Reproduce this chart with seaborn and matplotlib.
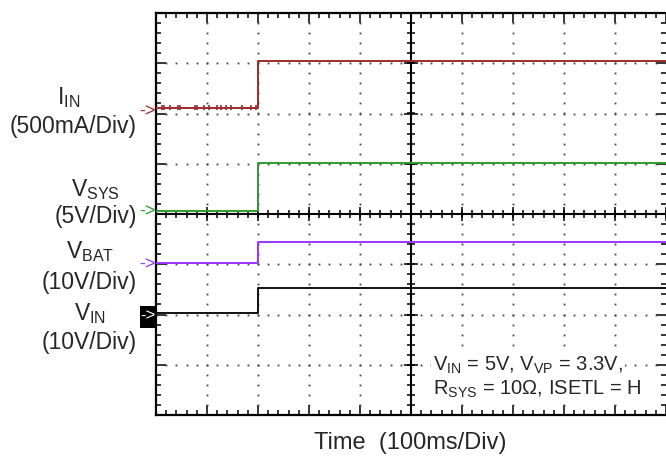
import matplotlib
matplotlib.use("Agg")
import matplotlib.pyplot as plt
import numpy as np
import pandas as pd
import seaborn as sns
from matplotlib.patches import Rectangle

# ---- scope capture data (time in ms) ----
step_time = [0, 200, 200, 1000]
iin_ma = [55, 55, 522, 522]          # input current, mA
vsys_v = [0.3, 0.3, 5.05, 5.05]      # system rail, V
vbat_v = [0.7, 0.7, 4.9, 4.9]        # battery, V
vin_v = [0.36, 0.36, 5.2, 5.2]       # input, V

channels = ["IIN", "VSYS", "VBAT", "VIN"]
channel_values = [iin_ma, vsys_v, vbat_v, vin_v]
per_div = [500, 5, 10, 10]           # units per vertical division
ground_div = [2.0, 0.0, -1.04, -2.0] # ground-marker position of each channel
colors = ["#9e2a2a", "#2f9a2f", "#9a33ff", "#111111"]

# small switching spikes seen on the input-current trace before the step
iin_spike_times = [12, 15, 27, 43, 47, 76, 80, 94, 103, 119, 128, 138, 148, 168, 186, 196]

sns.set_theme(style="white")
plt.rcParams["font.family"] = ["Liberation Sans", "DejaVu Sans"]
plt.rcParams["mathtext.fontset"] = "custom"
plt.rcParams["mathtext.rm"] = "Liberation Sans"
plt.rcParams["mathtext.it"] = "Liberation Sans"
plt.rcParams["mathtext.default"] = "regular"

W, H = 666, 457
fig = plt.figure(figsize=(W / 100, H / 100), dpi=100)
fig.patch.set_facecolor("white")
ax = fig.add_axes([156 / W, 42 / H, 510 / W, 402 / H])
ax.set_facecolor("white")

rows = []
for name, vals, scale, g in zip(channels, channel_values, per_div, ground_div):
    for t, v in zip(step_time, vals):
        rows.append({"time": t, "level": g + v / scale, "channel": name})
df = pd.DataFrame(rows)

# graticule dots
dot_kw = dict(ls="none", marker="s", ms=1.3, color="#444444", mec="none", zorder=1)
minor_x = np.arange(0, 1001, 20)
minor_y = np.arange(-4, 4.01, 0.2)
for xm in range(100, 1000, 100):
    if xm != 500:
        ax.plot(np.full(minor_y.size, xm), minor_y, **dot_kw)
for ym in range(-3, 4):
    if ym != 0:
        ax.plot(minor_x, np.full(minor_x.size, ym), **dot_kw)

# centre cross with its tick marks
ax.axvline(500, color="black", lw=1.5, zorder=2)
ax.axhline(0, color="black", lw=1.5, zorder=2)
ax.plot(np.full(minor_y.size, 500), minor_y, ls="none", marker="_", ms=6, mew=1.1, color="black", zorder=2)
ax.plot(minor_x, np.zeros(minor_x.size), ls="none", marker="|", ms=6, mew=1.1, color="black", zorder=2)
major_y = np.arange(-4, 5, 1)
major_x = np.arange(0, 1001, 100)
ax.plot(np.full(major_y.size, 500), major_y, ls="none", marker="_", ms=10, mew=1.1, color="black", zorder=2)
ax.plot(major_x, np.zeros(major_x.size), ls="none", marker="|", ms=10, mew=1.1, color="black", zorder=2)

# traces
sns.lineplot(data=df, x="time", y="level", hue="channel", palette=dict(zip(channels, colors)),
             estimator=None, sort=False, legend=False, lw=1.4, ax=ax, zorder=4)
iin_low = ground_div[0] + iin_ma[0] / per_div[0]
ax.vlines(iin_spike_times, iin_low - 0.05, iin_low + 0.05, color=colors[0], lw=1.2, zorder=4)

ax.set_xlim(0, 1000)
ax.set_ylim(-4, 4)
ax.set_xticks(major_x)
ax.set_xticks(minor_x, minor=True)
ax.set_yticks(major_y)
ax.set_yticks(minor_y, minor=True)
ax.tick_params(which="both", direction="in", top=True, bottom=True, left=True, right=True,
               labelbottom=False, labelleft=False, color="black", width=1.1)
ax.tick_params(which="major", length=7)
ax.tick_params(which="minor", length=3.5)
ax.set_xlabel("")
ax.set_ylabel("")
for side in ["top", "bottom", "left"]:
    ax.spines[side].set_color("black")
    ax.spines[side].set_linewidth(1.6)
ax.spines["right"].set_visible(False)

# channel labels on the left
def ftext(x, y, s, **kw):
    return fig.text(x / W, 1 - y / H, s, va="center", **kw)

fs = 16.5
ftext(69, 98, r"$\mathregular{I_{IN}}$", ha="center", fontsize=fs)
ftext(137, 126, "(500mA/Div)", ha="right", fontsize=fs)
ftext(95, 190, r"$\mathregular{V_{SYS}}$", ha="center", fontsize=fs)
ftext(137, 216, "(5V/Div)", ha="right", fontsize=fs)
ftext(90, 252, r"$\mathregular{V_{BAT}}$", ha="center", fontsize=fs)
ftext(137, 282, "(10V/Div)", ha="right", fontsize=fs)
ftext(90, 314, r"$\mathregular{V_{IN}}$", ha="center", fontsize=fs)
ftext(137, 343, "(10V/Div)", ha="right", fontsize=fs)

# ground markers
ftext(147, 112, "->", ha="center", fontsize=13, color=colors[0])
ftext(147, 212, "->", ha="center", fontsize=13, color=colors[1])
ftext(147, 265, "->", ha="center", fontsize=13, color=colors[2])
fig.patches.append(Rectangle((140 / W, 1 - 328 / H), 15 / W, 22 / H, transform=fig.transFigure,
                             facecolor="black", edgecolor="none", zorder=5))
fig.text(147.5 / W, 1 - 316 / H, "->", ha="center", va="center", fontsize=12, color="white", zorder=6)

# test conditions, on a white patch over the graticule
afs = 14.5
box = dict(facecolor="white", edgecolor="none", pad=1.5)
ftext(433, 365, r"$\mathregular{V_{IN}}$ = 5V, $\mathregular{V_{VP}}$ = 3.3V,", ha="left", fontsize=afs,
      bbox=box, zorder=7)
ftext(433, 389, r"$\mathregular{R_{SYS}}$ = 10Ω, ISETL = H", ha="left", fontsize=afs,
      bbox=box, zorder=7)

ftext(410, 443, "Time  (100ms/Div)", ha="center", fontsize=17)

fig.savefig("out.png", dpi=100, facecolor="white")
